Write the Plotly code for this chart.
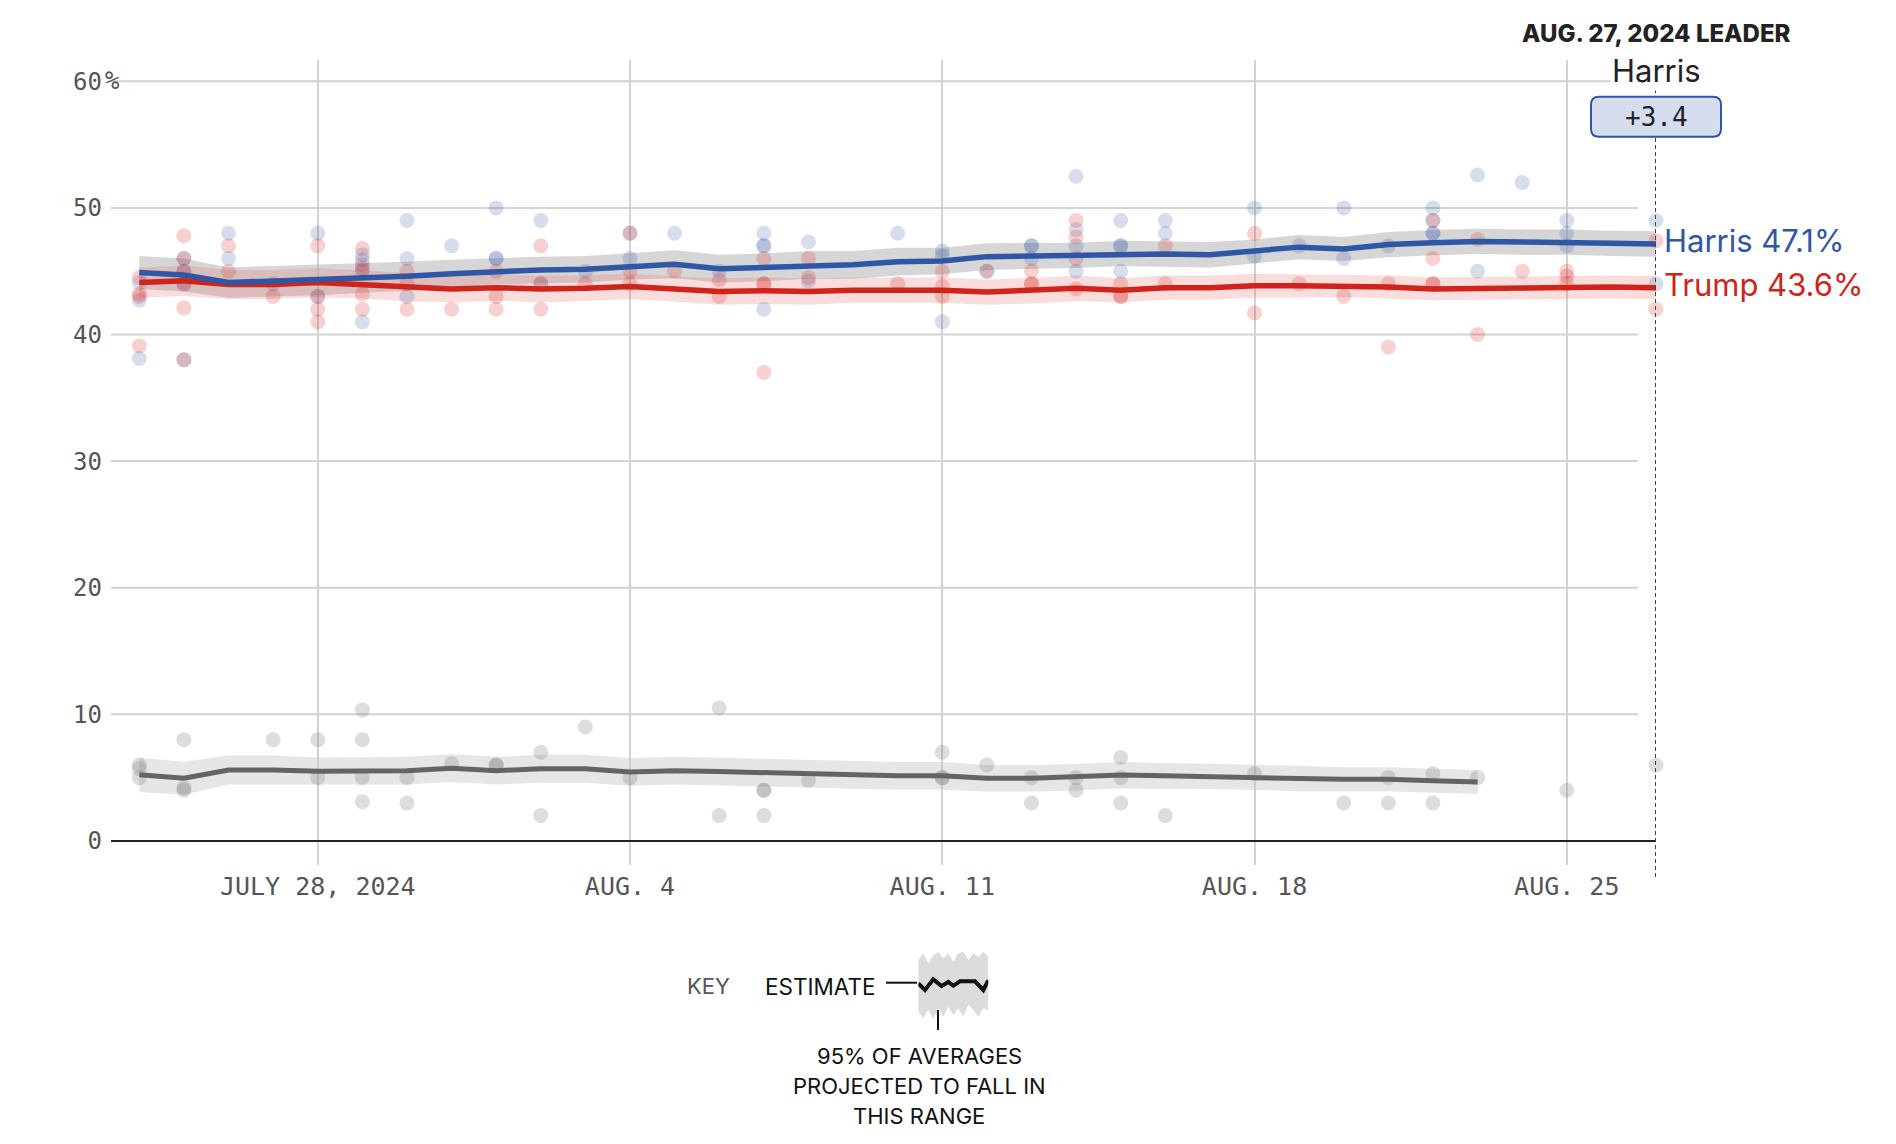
import plotly.graph_objects as go
import pandas as pd

# ---------------- data ----------------
avg_dates = pd.date_range("2024-07-24", "2024-08-27").strftime("%Y-%m-%d").tolist()
other_dates = avg_dates[:31]

harris_avg = [44.9, 44.7, 44.1, 44.2, 44.3, 44.45, 44.6, 44.8,
              45.0, 45.1, 45.15, 45.4, 45.55, 45.2, 45.3, 45.5, 45.5, 45.75, 45.8,
              46.15, 46.2, 46.25, 46.4, 46.35, 46.3, 46.55, 46.9, 46.75, 47.1,
              47.25, 47.35, 47.3, 47.3, 47.2, 47.15]
harris_moe = [1.3, 1.3, 1.2, 1.2, 1.2, 1.15, 1.15, 1.1, 1.05, 1.05, 1.05, 1.05,
              1.1, 1.1, 1.1, 1.1, 1.1, 1.1, 1.05, 1.05, 1.05, 1.0, 1.0, 1.0, 1.0,
              0.95, 0.95, 0.95, 1.0, 1.0, 1.0, 1.0, 1.0, 1.0, 1.0]
trump_avg = [44.1, 44.25, 43.95, 43.95, 44.1, 43.95, 43.7, 43.6,
             43.7, 43.6, 43.65, 43.8, 43.6, 43.4, 43.45, 43.4, 43.5, 43.5, 43.5,
             43.35, 43.45, 43.65, 43.5, 43.7, 43.7, 43.85, 43.85, 43.85, 43.75,
             43.6, 43.65, 43.7, 43.7, 43.75, 43.7]
trump_moe = [1.2, 1.2, 1.15, 1.15, 1.15, 1.1, 1.1, 1.05, 1.05, 1.05, 1.0, 1.0,
             1.0, 1.05, 1.05, 1.05, 1.0, 1.0, 1.0, 1.0, 1.0, 1.0, 0.95, 0.95,
             0.95, 0.95, 0.9, 0.9, 0.9, 0.9, 0.9, 0.9, 0.9, 0.9, 0.9]
other_avg = [5.22, 4.95, 5.6, 5.6, 5.5, 5.5, 5.55, 5.75,
             5.55, 5.7, 5.7, 5.45, 5.55, 5.48, 5.4, 5.3, 5.2, 5.14, 5.14,
             4.95, 4.95, 5.03, 5.2, 5.14, 5.1, 5.03, 4.93, 4.87, 4.87, 4.76, 4.66]
other_moe = [1.35, 1.3, 1.15, 1.15, 1.1, 1.1, 1.1, 1.1, 1.1, 1.1, 1.1, 1.1,
             1.1, 1.1, 1.1, 1.1, 1.1, 1.1, 1.1, 1.05, 1.05, 1.05, 1.05, 1.0,
             1.0, 1.0, 1.0, 0.95, 0.95, 0.95, 0.95]

harris_polls = {
    "2024-07-24": [44.1, 42.7, 38.1], "2024-07-25": [46, 45, 44, 38],
    "2024-07-26": [48, 46], "2024-07-27": [44], "2024-07-28": [48, 43],
    "2024-07-29": [46.3, 45.9, 45.2, 41], "2024-07-30": [49, 46, 43],
    "2024-07-31": [47], "2024-08-01": [50, 46, 46], "2024-08-02": [49, 44],
    "2024-08-03": [45], "2024-08-04": [48, 46], "2024-08-05": [48],
    "2024-08-06": [45], "2024-08-07": [48, 47, 47, 42], "2024-08-08": [47.3, 44.2],
    "2024-08-10": [48], "2024-08-11": [46.6, 46.2, 41], "2024-08-12": [45],
    "2024-08-13": [47, 47, 46], "2024-08-14": [52.5, 48.3, 47, 45],
    "2024-08-15": [49, 47, 47, 45], "2024-08-16": [49, 48], "2024-08-18": [50, 46.2],
    "2024-08-19": [47], "2024-08-20": [50, 46], "2024-08-21": [47],
    "2024-08-22": [50, 49, 48, 48], "2024-08-23": [52.6, 45], "2024-08-24": [52],
    "2024-08-25": [49, 48, 47], "2024-08-27": [49, 44],
}
trump_polls = {
    "2024-07-24": [44.5, 43.2, 43, 39.1], "2024-07-25": [47.8, 46, 45, 44, 42.1, 38],
    "2024-07-26": [47, 45], "2024-07-27": [43], "2024-07-28": [47, 43, 42, 41],
    "2024-07-29": [46.8, 45.5, 45, 43.2, 42], "2024-07-30": [45, 44, 42],
    "2024-07-31": [42], "2024-08-01": [45, 43, 42], "2024-08-02": [47, 44, 42],
    "2024-08-03": [44], "2024-08-04": [48, 45, 44], "2024-08-05": [45],
    "2024-08-06": [44.3, 43], "2024-08-07": [46, 44, 44, 37], "2024-08-08": [46, 44.5],
    "2024-08-10": [44], "2024-08-11": [45, 43.8, 43], "2024-08-12": [45],
    "2024-08-13": [45, 44, 44], "2024-08-14": [49, 47.7, 46, 43.6],
    "2024-08-15": [44, 43, 43], "2024-08-16": [47, 44], "2024-08-18": [48, 41.7],
    "2024-08-19": [44], "2024-08-20": [43], "2024-08-21": [44, 39],
    "2024-08-22": [49, 46, 44, 44], "2024-08-23": [47.5, 40], "2024-08-24": [45],
    "2024-08-25": [45, 44.6, 44], "2024-08-27": [47.4, 42],
}
other_polls = {
    "2024-07-24": [6, 5.7, 5], "2024-07-25": [8, 4.2, 4], "2024-07-27": [8],
    "2024-07-28": [8, 5], "2024-07-29": [10.35, 8, 5, 3.1], "2024-07-30": [5, 3],
    "2024-07-31": [6.1], "2024-08-01": [6, 6], "2024-08-02": [7, 2],
    "2024-08-03": [9], "2024-08-04": [5], "2024-08-06": [10.5, 2],
    "2024-08-07": [4, 4, 2], "2024-08-08": [4.8], "2024-08-11": [7, 5, 5],
    "2024-08-12": [6], "2024-08-13": [5, 3], "2024-08-14": [5, 4],
    "2024-08-15": [6.6, 5, 3], "2024-08-16": [2], "2024-08-18": [5.3],
    "2024-08-20": [3], "2024-08-21": [5, 3], "2024-08-22": [5.3, 3],
    "2024-08-23": [5], "2024-08-25": [4], "2024-08-27": [6],
}

y_ticks = [0, 10, 20, 30, 40, 50, 60]
y_ticktext = ["0", "10", "20", "30", "40", "50", "60"]
x_ticks = ["2024-07-28", "2024-08-04", "2024-08-11", "2024-08-18", "2024-08-25"]
x_ticktext = ["JULY 28, 2024", "AUG. 4", "AUG. 11", "AUG. 18", "AUG. 25"]
leader_date = "2024-08-27"
leader_title = "AUG. 27, 2024 LEADER"
leader_name = "Harris"
leader_margin = "+3.4"

# decorative key glyph
key_x = [0, 1.5, 3, 4.5, 6, 7.5, 9, 10.5, 12, 13.5, 15, 16.5, 18, 19.5, 21]
key_hi = [18, 20, 17, 19.5, 20.5, 18.5, 20, 17.5, 20, 20.5, 18, 20, 19, 20.5, 19]
key_lo = [2.5, 0.5, 3, 0.5, 3.5, 1, 4, 1.5, 3.5, 1, 4.5, 3, 1, 3.5, 3]
key_line_x = [0, 2, 4.5, 7, 9, 10.5, 12.5, 17, 19.5, 21]
key_line_y = [11, 9, 12.2, 10.2, 11.4, 10.3, 11.6, 11.6, 9, 11.9]

# ---------------- styling ----------------
BLUE = "#3056a6"
RED = "#d0231a"
DARK = "#646464"
MONO = "DejaVu Sans Mono"
SANS = "Inter"
OFF = 8                      # page body margin of the browser
W, H = 1896 - OFF, 1144 - OFF
ML, MT = 111 - OFF, 60 - OFF
MR = W - (1656 - OFF)
MB = H - (1124 - OFF)
PW, PH = W - ML - MR, H - MT - MB
PLOT_BOTTOM_PX = 865


def px_x(px):
    return (px - OFF - ML) / PW


def px_y(py):
    return (H - MB - (py - OFF)) / PH


def flatten(polls):
    xs, ys = [], []
    for d, vals in polls.items():
        for v in vals:
            xs.append(d)
            ys.append(v)
    return xs, ys


fig = go.Figure()


def band(dates, avg, moe, color):
    lo = [a - m for a, m in zip(avg, moe)]
    hi = [a + m for a, m in zip(avg, moe)]
    fig.add_trace(go.Scatter(x=dates, y=lo, mode="lines", line=dict(width=0),
                             hoverinfo="skip", showlegend=False))
    fig.add_trace(go.Scatter(x=dates, y=hi, mode="lines", line=dict(width=0),
                             fill="tonexty", fillcolor=color,
                             hoverinfo="skip", showlegend=False))


band(avg_dates, harris_avg, harris_moe, "rgba(185,185,185,0.58)")
band(avg_dates, trump_avg, trump_moe, "rgba(232,110,110,0.24)")
band(other_dates, other_avg, other_moe, "rgba(200,200,200,0.45)")

for polls, col in [(other_polls, "rgba(120,120,120,0.25)"),
                   (harris_polls, "rgba(51,85,165,0.2)"),
                   (trump_polls, "rgba(215,45,35,0.22)")]:
    xs, ys = flatten(polls)
    fig.add_trace(go.Scatter(x=xs, y=ys, mode="markers",
                             marker=dict(size=15, color=col, line=dict(width=0)),
                             cliponaxis=False, showlegend=False))

fig.add_trace(go.Scatter(x=other_dates, y=other_avg, mode="lines",
                         line=dict(color=DARK, width=5), showlegend=False))
fig.add_trace(go.Scatter(x=avg_dates, y=trump_avg, mode="lines",
                         line=dict(color=RED, width=5.5), showlegend=False))
fig.add_trace(go.Scatter(x=avg_dates, y=harris_avg, mode="lines",
                         line=dict(color=BLUE, width=5.5), showlegend=False))

# key glyph on inset axes
fig.add_trace(go.Scatter(x=key_x, y=key_lo, mode="lines", line=dict(width=0),
                         xaxis="x2", yaxis="y2", showlegend=False, hoverinfo="skip"))
fig.add_trace(go.Scatter(x=key_x, y=key_hi, mode="lines", line=dict(width=0),
                         fill="tonexty", fillcolor="#dcdcdc",
                         xaxis="x2", yaxis="y2", showlegend=False, hoverinfo="skip"))
fig.add_trace(go.Scatter(x=key_line_x, y=key_line_y, mode="lines",
                         line=dict(color="#111", width=4),
                         xaxis="x2", yaxis="y2", showlegend=False, hoverinfo="skip"))

shapes = []
for v in y_ticks[1:]:
    shapes.append(dict(type="line", xref="paper", yref="y", x0=0, x1=px_x(1638),
                       y0=v, y1=v, line=dict(color="#d2d2d2", width=2), layer="below"))
# leader dotted line
shapes.append(dict(type="line", xref="x", yref="paper", x0=leader_date, x1=leader_date,
                   y0=px_y(877), y1=px_y(88), line=dict(color="#444", width=2, dash="4px,3px"),
                   layer="above"))
# rounded box
bx0, bx1, by0, by1 = px_x(1591), px_x(1721), px_y(136.7), px_y(96.7)
rx, ry = 8 / PW, 8 / PH
path = (f"M {bx0+rx},{by0} L {bx1-rx},{by0} Q {bx1},{by0} {bx1},{by0+ry} "
        f"L {bx1},{by1-ry} Q {bx1},{by1} {bx1-rx},{by1} L {bx0+rx},{by1} "
        f"Q {bx0},{by1} {bx0},{by1-ry} L {bx0},{by0+ry} Q {bx0},{by0} {bx0+rx},{by0} Z")
shapes.append(dict(type="path", xref="paper", yref="paper", path=path,
                   fillcolor="#d5ddee", line=dict(color="#3056a6", width=2), layer="above"))
# key connectors
shapes.append(dict(type="line", xref="paper", yref="paper", x0=px_x(886), x1=px_x(917),
                   y0=px_y(982.7), y1=px_y(982.7), line=dict(color="#111", width=2)))
shapes.append(dict(type="line", xref="paper", yref="paper", x0=px_x(938), x1=px_x(938),
                   y0=px_y(1010), y1=px_y(1030), line=dict(color="#111", width=2)))

annotations = [
    dict(text="%", xref="paper", yref="y", x=px_x(103), y=60, xanchor="left",
         yanchor="middle", showarrow=False, font=dict(family=MONO, size=24, color="#555")),
    dict(text=leader_title, xref="x", yref="paper", x=leader_date, y=px_y(33),
         xanchor="center", yanchor="middle", showarrow=False,
         font=dict(family=SANS, size=24, color="#222", weight=800)),
    dict(text=leader_name, xref="x", yref="paper", x=leader_date, y=px_y(70),
         xanchor="center", yanchor="middle", showarrow=False, bgcolor="white",
         font=dict(family=SANS, size=31, color="#222")),
    dict(text=leader_margin, xref="x", yref="paper", x=leader_date, y=px_y(117),
         xanchor="center", yanchor="middle", showarrow=False,
         font=dict(family=MONO, size=26, color="#222")),
    dict(text=f"Harris {harris_avg[-1]:.1f}%", xref="x", yref="y", x=leader_date,
         y=harris_avg[-1], xanchor="left", yanchor="middle", xshift=6, yshift=3,
         showarrow=False, font=dict(family=SANS, size=31, color=BLUE)),
    dict(text="Trump 43.6%", xref="x", yref="y", x=leader_date,
         y=trump_avg[-1], xanchor="left", yanchor="middle", xshift=6, yshift=3,
         showarrow=False, font=dict(family=SANS, size=31, color=RED)),
    dict(text="KEY", xref="paper", yref="paper", x=px_x(708.5), y=px_y(986),
         xanchor="center", yanchor="middle", showarrow=False,
         font=dict(family=SANS, size=22, color="#555")),
    dict(text="ESTIMATE", xref="paper", yref="paper", x=px_x(820.5), y=px_y(986),
         xanchor="center", yanchor="middle", showarrow=False,
         font=dict(family=SANS, size=22.5, color="#111")),
]
for i, line in enumerate(["95% OF AVERAGES", "PROJECTED TO FALL IN", "THIS RANGE"]):
    annotations.append(dict(text=line, xref="paper", yref="paper", x=px_x(919),
                            y=px_y(1056 + 30 * i), xanchor="center", yanchor="middle",
                            showarrow=False, font=dict(family=SANS, size=22, color="#111")))

main_y0 = px_y(PLOT_BOTTOM_PX)
fig.update_layout(
    width=W, height=H, margin=dict(l=ML, r=MR, t=MT, b=MB),
    plot_bgcolor="white", paper_bgcolor="white", showlegend=False,
    xaxis=dict(type="date", range=["2024-07-23 08:46", "2024-08-27 00:00"],
               domain=[0, 1], anchor="y",
               tickvals=x_ticks, ticktext=x_ticktext, showgrid=True,
               gridcolor="#d2d2d2", gridwidth=2, zeroline=False, showline=False,
               ticks="", ticklabelstandoff=4,
               tickfont=dict(family=MONO, size=25, color="#555")),
    yaxis=dict(range=[-1.9, 61.68], domain=[main_y0, 1], anchor="x",
               tickvals=y_ticks, ticktext=y_ticktext, showgrid=False,
               zeroline=True, zerolinecolor="#222", zerolinewidth=2,
               showline=False, ticks="", ticklabelstandoff=8,
               tickfont=dict(family=MONO, size=24, color="#555")),
    xaxis2=dict(domain=[px_x(918.3), px_x(988.3)], range=[0, 21], anchor="y2",
                visible=False, fixedrange=True),
    yaxis2=dict(domain=[px_y(1020), px_y(951.7)], range=[0, 20.5], anchor="x2",
                visible=False, fixedrange=True),
    shapes=shapes, annotations=annotations,
    font=dict(family=SANS),
)

fig.write_html("out.html")
